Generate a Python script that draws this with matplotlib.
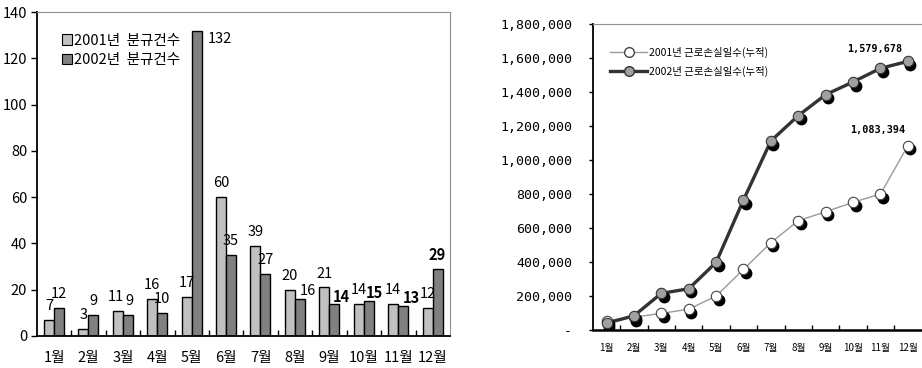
import numpy as np
import matplotlib
matplotlib.use('Agg')
import matplotlib.pyplot as plt
import matplotlib.transforms as mtransforms
from matplotlib.patches import Patch
from matplotlib.lines import Line2D
from matplotlib.ticker import FuncFormatter, FixedLocator

plt.rcParams['font.family'] = ['Liberation Sans Narrow', 'Noto Sans CJK KR', 'DejaVu Sans']

# data
months = ['1월', '2월', '3월', '4월', '5월', '6월', '7월', '8월', '9월', '10월', '11월', '12월']
disputes_2001 = [7, 3, 11, 16, 17, 60, 39, 20, 21, 14, 14, 12]
disputes_2002 = [12, 9, 9, 10, 132, 35, 27, 16, 14, 15, 13, 29]
lost_days_2001 = [55000, 76000, 98000, 123000, 200000, 357000, 514000, 643000,
                  696000, 751000, 800000, 1083394]
lost_days_2002 = [41000, 84000, 216000, 243000, 398000, 765000, 1112000, 1261000,
                  1384000, 1459000, 1539000, 1579678]
legend_left = ['2001년  분규건수', '2002년  분규건수']
legend_right = ['2001년 근로손실일수(누적)', '2002년 근로손실일수(누적)']

fig = plt.figure(figsize=(9.22, 3.68), dpi=100)

# ---------- left: bar chart ----------
ax = fig.add_axes([0.040, 0.087, 0.448, 0.880])
x = np.arange(len(months))
w = 0.29
c01, c02 = '#c0c0c0', '#808080'
ax.bar(x - 0.15, disputes_2001, w, color=c01, edgecolor='black', linewidth=1)
ax.bar(x + 0.14, disputes_2002, w, color=c02, edgecolor='black', linewidth=1)

# label offsets (points), most labels sit centred above the bar
off_2001 = {2: (-1.5, 0)}
off_2002 = {2: (1.5, 0), 4: (17, -16), 7: (6, -4), 8: (5, -5), 9: (4, -4), 10: (6, -4)}
bold_2002 = {8, 9, 10, 11}
for i, v in enumerate(disputes_2001):
    dx, dy = off_2001.get(i, (0, 0))
    ax.annotate(str(v), (x[i] - 0.15, v), xytext=(dx, 10 + dy), textcoords='offset points',
                ha='center', va='center', fontsize=10.5)
for i, v in enumerate(disputes_2002):
    dx, dy = off_2002.get(i, (0, 0))
    ax.annotate(str(v), (x[i] + 0.14, v), xytext=(dx, 10 + dy), textcoords='offset points',
                ha='center', va='center', fontsize=10.5,
                fontweight='bold' if i in bold_2002 else 'normal')

ax.set_xlim(-0.5, 11.5)
ax.set_ylim(0, 140)
ax.set_yticks(range(0, 141, 20))
ax.set_xticks(x)
ax.set_xticklabels(months)
ax.xaxis.set_minor_locator(FixedLocator(np.arange(0.5, 11, 1)))
ax.tick_params(axis='x', which='major', length=0, pad=11, labelsize=10.5)
ax.tick_params(axis='x', which='minor', direction='in', length=4, width=1)
ax.tick_params(axis='y', direction='out', length=4, width=1, pad=3, labelsize=10.5)
for s in ['top', 'right']:
    ax.spines[s].set_color('#909090')
    ax.spines[s].set_linewidth(0.8)
for s in ['left', 'bottom']:
    ax.spines[s].set_color('black')
    ax.spines[s].set_linewidth(1.3)

handles = [Patch(facecolor=c01, edgecolor='black', linewidth=0.8),
           Patch(facecolor=c02, edgecolor='black', linewidth=0.8)]
ax.legend(handles, legend_left, loc='upper left', bbox_to_anchor=(0.035, 0.965),
          frameon=False, handlelength=0.7, handleheight=0.7, handletextpad=0.15,
          labelspacing=0.35, fontsize=10.5, borderpad=0.2)

# ---------- right: cumulative line chart ----------
ax2 = fig.add_axes([0.643, 0.103, 0.3565, 0.832])
xc = np.arange(len(months)) + 0.5
shadow = mtransforms.offset_copy(ax2.transData, fig=fig, x=1.8, y=-2.6, units='points')

ax2.plot(xc, lost_days_2001, color='#9a9a9a', lw=1, zorder=2)
ax2.plot(xc, lost_days_2002, color='#333333', lw=2.4, zorder=3)
ax2.plot(xc, lost_days_2001, 'o', color='black', ms=7.5, transform=shadow, zorder=4)
ax2.plot(xc, lost_days_2001, 'o', mfc='white', mec='#444444', mew=0.8, ms=7.5, zorder=5)
ax2.plot(xc, lost_days_2002, 'o', color='black', ms=7.5, transform=shadow, zorder=6)
ax2.plot(xc, lost_days_2002, 'o', mfc='#a0a0a0', mec='#333333', mew=0.8, ms=7.5, zorder=7)

ax2.annotate('{:,}'.format(lost_days_2002[-1]), (xc[-1], lost_days_2002[-1]),
             xytext=(-24, 9), textcoords='offset points', ha='center', va='center',
             family='DejaVu Sans Mono', fontweight='bold', fontsize=7.3)
ax2.annotate('{:,}'.format(lost_days_2001[-1]), (xc[-1], lost_days_2001[-1]),
             xytext=(-22, 11.5), textcoords='offset points', ha='center', va='center',
             family='DejaVu Sans Mono', fontweight='bold', fontsize=7.3)

ax2.set_xlim(0, 12)
ax2.set_ylim(0, 1800000)
ax2.set_yticks(range(0, 1800001, 200000))
ax2.yaxis.set_major_formatter(FuncFormatter(lambda v, p: '-' if v == 0 else '{:,}'.format(int(v))))
for lab in ax2.get_yticklabels():
    lab.set_family('DejaVu Sans Mono')
ax2.tick_params(axis='y', direction='out', length=3, width=1, pad=12, labelsize=9.5)
ax2.set_xticks(xc)
ax2.set_xticklabels(months, family=['Noto Sans CJK KR', 'DejaVu Sans'])
ax2.xaxis.set_minor_locator(FixedLocator(np.arange(1, 12, 1)))
ax2.tick_params(axis='x', which='major', length=0, pad=9, labelsize=7)
ax2.tick_params(axis='x', which='minor', direction='in', length=3.5, width=1)
ax2.spines['top'].set_color('#909090')
ax2.spines['top'].set_linewidth(0.8)
ax2.spines['right'].set_visible(False)
ax2.spines['left'].set_linewidth(1.3)
ax2.spines['bottom'].set_linewidth(1.8)

lh = [Line2D([], [], color='#9a9a9a', lw=1, marker='o', mfc='white', mec='#444444', ms=7),
      Line2D([], [], color='#333333', lw=2.4, marker='o', mfc='#a0a0a0', mec='#333333', ms=7)]
ax2.legend(lh, legend_right, loc='upper left', bbox_to_anchor=(0.03, 0.95),
           frameon=False, handlelength=3.6, handletextpad=0.1, labelspacing=0.8,
           prop={'family': ['Noto Sans CJK KR', 'DejaVu Sans'], 'size': 7.5}, borderpad=0.2)

fig.savefig('out.png', dpi=100)
